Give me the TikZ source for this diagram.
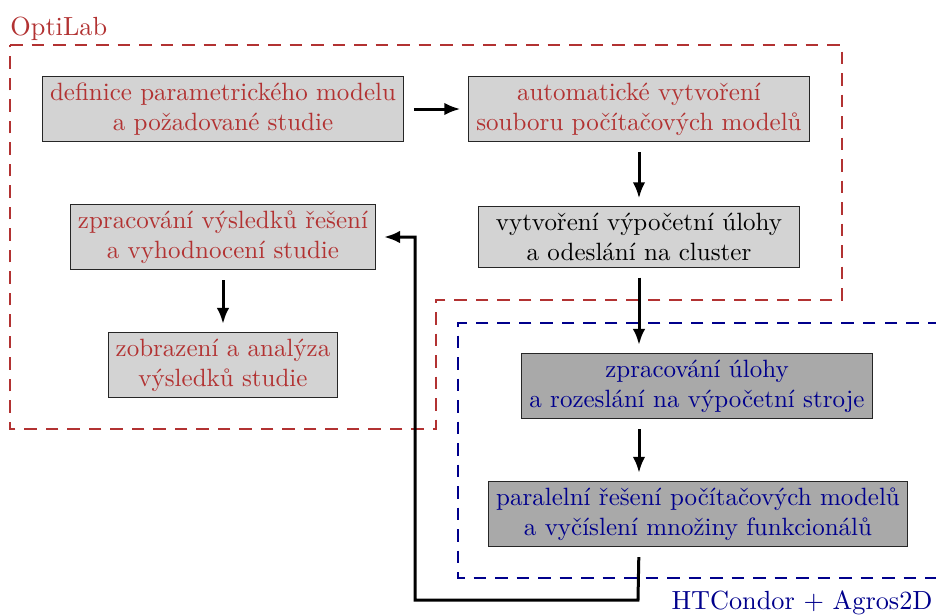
\documentclass[tikz,border=0pt]{standalone}
\usetikzlibrary{arrows.meta}
\definecolor{olred}{RGB}{178,50,50}
\definecolor{olblue}{RGB}{0,0,140}
\definecolor{boxlight}{RGB}{211,211,211}
\definecolor{boxdark}{RGB}{169,169,169}
\begin{document}
\begin{tikzpicture}[x=0.4pt,y=-0.4pt,
  box/.style={draw=black!85, line width=0.4pt, align=center, inner xsep=3pt, inner ysep=2.5pt},
  lightbox/.style={box, fill=boxlight},
  darkbox/.style={box, fill=boxdark},
  regionlabel/.style={inner sep=0pt, font=\fontsize{10.5}{12.6}\selectfont},
  flow/.style={-{Latex[length=6.4pt,width=5pt]}, line width=1.2pt, shorten <=4pt, shorten >=3.2pt},
  region/.style={line width=0.8pt, dash pattern=on 5pt off 3.6pt}]
\useasboundingbox (0,0) rectangle (936,615);

% regions
\draw[region, olred] (10,45) -- (842,45) -- (842,300) -- (436,300) -- (436,429) -- (10,429) -- cycle;
\draw[region, olblue] (940,323) -- (458,323) -- (458,578) -- (940,578);

\node[regionlabel, olred, anchor=base west] (optilab) at (10,35) {OptiLab};
\node[regionlabel, olblue, anchor=base east] (htc) at (933,609) {HTCondor + Agros2D};

% nodes
\node[lightbox, text=olred] (n1) at (223,109) {definice parametrického modelu\\a požadované studie};
\node[lightbox, text=olred] (n2) at (639,109) {automatické vytvoření\\souboru počítačových modelů};
\node[lightbox, text=black, minimum width=128pt] (n3) at (639,237) {vytvoření výpočetní úlohy\\a odeslání na cluster};
\node[lightbox, text=olred] (n4) at (223,237) {zpracování výsledků řešení\\a vyhodnocení studie};
\node[lightbox, text=olred] (n5) at (223,365) {zobrazení a analýza\\výsledků studie};
\node[darkbox, text=olblue] (n6) at (697,386) {zpracování úlohy\\a rozeslání na výpočetní stroje};
\node[darkbox, text=olblue] (n7) at (698,514) {paralelní řešení počítačových modelů\\a vyčíslení množiny funkcionálů};

\coordinate (fbA) at (638,600);
\coordinate (fbB) at (415,600);

% connectors
\draw[flow] (n1) -- (n2);
\draw[flow] (n2) -- (n3);
\draw[flow] (n3) -- (n3.south |- n6.north);
\draw[flow] (n6.south -| n3.south) -- (n7.north -| n3.south);
\draw[flow] (n4) -- (n5);
\draw[flow] (n7.south -| n3.south) -- (fbA) -- (fbB) |- (n4.east);
\end{tikzpicture}
\end{document}
